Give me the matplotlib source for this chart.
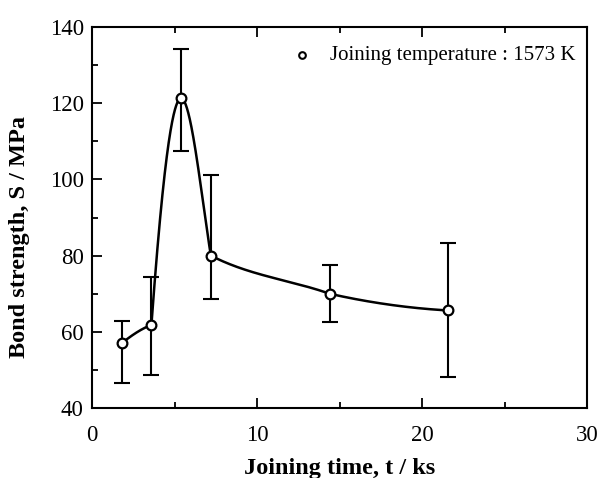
import numpy as np
import matplotlib
matplotlib.use("Agg")
import matplotlib.pyplot as plt
from matplotlib.ticker import MultipleLocator

time_ks = [1.8, 3.6, 5.4, 7.2, 14.4, 21.6]
strength = [57.0, 61.8, 121.3, 80.0, 70.0, 65.6]
err_low = [46.5, 48.7, 107.5, 68.5, 62.6, 48.1]
err_high = [62.9, 74.5, 134.2, 101.2, 77.5, 83.2]
legend_label = "Joining temperature : 1573 K"

# tangent factors (style of the hand-drawn fit curve), relative to each segment's secant
tan_start = [1.3, 1.8, 0.0, 1.6, 1.6]
tan_end = [0.6, 0.0, 1.2, 1.1, 0.4]


def hermite_curve(x, y, f0, f1, npts=200):
    x = np.asarray(x, float); y = np.asarray(y, float)
    xs_all, ys_all = [], []
    for k in range(len(x) - 1):
        h = x[k + 1] - x[k]
        d = (y[k + 1] - y[k]) / h
        m0, m1 = f0[k] * d, f1[k] * d
        t = np.linspace(0, 1, npts)
        h00 = 2*t**3 - 3*t**2 + 1; h10 = t**3 - 2*t**2 + t
        h01 = -2*t**3 + 3*t**2; h11 = t**3 - t**2
        xs_all.append(x[k] + t * h)
        ys_all.append(h00*y[k] + h10*h*m0 + h01*y[k+1] + h11*h*m1)
    return np.concatenate(xs_all), np.concatenate(ys_all)


plt.rcParams['font.family'] = ['Liberation Serif', 'DejaVu Serif']
fig = plt.figure(figsize=(6.03, 4.78), dpi=100)
ax = fig.add_axes([0.1526, 0.1464, 0.8209, 0.7971])

cx, cy = hermite_curve(time_ks, strength, tan_start, tan_end)
ax.plot(cx, cy, color='black', lw=1.8, zorder=2)

s = np.array(strength)
yerr = [s - np.array(err_low), np.array(err_high) - s]
ax.errorbar(time_ks, strength, yerr=yerr, fmt='none', ecolor='black',
            elinewidth=1.5, capsize=6, capthick=1.5, zorder=3)
ax.plot(time_ks, strength, 'o', ms=7, mfc='white', mec='black', mew=1.6, zorder=4)

ax.set_xlim(0, 30)
ax.set_ylim(40, 140)
ax.xaxis.set_major_locator(MultipleLocator(10))
ax.xaxis.set_minor_locator(MultipleLocator(5))
ax.yaxis.set_major_locator(MultipleLocator(20))
ax.yaxis.set_minor_locator(MultipleLocator(10))
ax.tick_params(which='both', direction='in', top=True, right=False,
               labelsize=16.5, width=1.3)
ax.tick_params(which='major', length=7)
ax.tick_params(which='minor', length=4)
ax.tick_params(axis='x', pad=12)
ax.tick_params(axis='y', pad=6)
for sp in ax.spines.values():
    sp.set_linewidth(1.5)

ax.set_xlabel('Joining time, t / ks', fontsize=17.5, fontweight='bold')
ax.set_ylabel('Bond strength, S / MPa', fontsize=17.5, fontweight='bold')
ax.xaxis.set_label_coords(0.5, -0.13)
ax.yaxis.set_label_coords(-0.147, 0.45)
ax.yaxis.label.set_va('center')
ax.yaxis.label.set_ha('center')

ax.plot([12.7], [132.6], 'o', ms=4.8, mfc='white', mec='black', mew=1.5)
ax.text(14.45, 132.6, legend_label, fontsize=15, va='center', ha='left')

fig.savefig('out.png', dpi=100)
